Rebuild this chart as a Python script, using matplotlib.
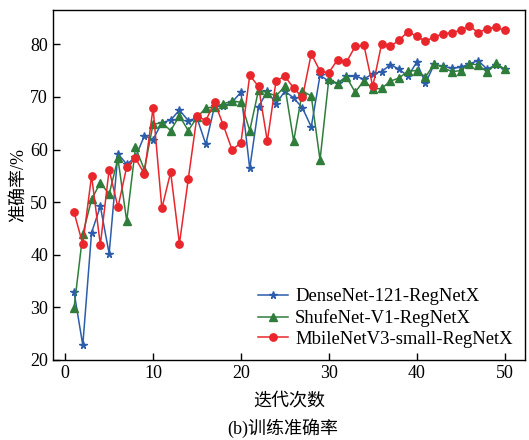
import numpy as np
import matplotlib
matplotlib.use("Agg")
import matplotlib.pyplot as plt

plt.rcParams['font.family'] = ['Liberation Serif', 'Noto Sans CJK SC']
plt.rcParams['axes.unicode_minus'] = False

# ------------ data ------------
epochs = np.arange(1, 51)

densenet_acc = [33.0, 22.8, 44.2, 49.2, 40.2, 59.2, 57.2, 58.5, 62.6, 61.9,
                65.1, 65.6, 67.5, 65.5, 66.0, 61.0, 68.3, 68.2, 69.0, 70.9,
                56.4, 68.1, 71.1, 68.7, 71.1, 69.8, 67.9, 64.3, 74.1, 73.0,
                72.6, 73.9, 73.9, 73.4, 74.4, 74.8, 76.1, 75.3, 73.9, 76.6,
                72.6, 76.2, 75.8, 75.5, 75.6, 76.3, 76.9, 75.3, 76.0, 75.3]

shufflenet_acc = [29.8, 43.9, 50.5, 53.7, 51.5, 58.3, 46.4, 60.4, 56.2, 64.8,
                  65.1, 63.6, 66.4, 63.6, 66.1, 67.9, 68.1, 68.7, 69.2, 69.0,
                  63.6, 71.3, 70.8, 70.2, 72.0, 61.6, 71.1, 70.2, 58.0, 73.4,
                  72.5, 73.8, 70.9, 73.1, 71.5, 71.6, 73.0, 73.6, 74.9, 75.0,
                  73.8, 76.3, 75.6, 74.8, 75.0, 76.3, 76.1, 74.7, 76.4, 75.3]

mobilenet_acc = [48.1, 42.0, 55.0, 41.9, 56.2, 49.0, 56.7, 58.3, 55.4, 67.9,
                 48.8, 55.7, 42.1, 54.3, 66.4, 65.5, 69.0, 64.6, 59.9, 61.3,
                 74.1, 72.0, 61.6, 73.1, 73.9, 71.7, 69.9, 78.2, 74.9, 74.6,
                 77.1, 76.6, 79.6, 79.8, 72.0, 80.0, 79.6, 80.8, 82.4, 81.5,
                 80.6, 81.4, 82.0, 82.2, 82.7, 83.5, 82.2, 83.0, 83.2, 82.7]

labels = ['DenseNet-121-RegNetX', 'ShufeNet-V1-RegNetX', 'MbileNetV3-small-RegNetX']

# ------------ figure ------------
fig = plt.figure(figsize=(5.29, 4.40), dpi=100)
ax = fig.add_axes([0.100, 0.182, 0.892, 0.795])

ax.plot(epochs, densenet_acc, color='#2b5dab', marker='*', markersize=5.5,
        linewidth=1.1, label=labels[0])
ax.plot(epochs, shufflenet_acc, color='#2f7d3b', marker='^', markersize=5.5,
        linewidth=1.1, label=labels[1])
ax.plot(epochs, mobilenet_acc, color='#e8262b', marker='o', markersize=5.3,
        linewidth=1.1, label=labels[2])

# set range and ticks
ax.set_xlim(-1.4, 52.3)
ax.set_ylim(20, 86.5)
ax.set_xticks(np.arange(0, 51, 10))
ax.set_yticks(np.arange(20, 81, 10))
ax.tick_params(axis='both', direction='in', length=5, width=1.0, labelsize=13)
for sp in ax.spines.values():
    sp.set_linewidth(1.0)

# axis labels
ax.set_ylabel('准确率/%', fontsize=13, labelpad=2)
ax.set_xlabel('迭代次数', fontsize=13, labelpad=8)
fig.text(0.535, 0.027, '(b)训练准确率', ha='center', va='center', fontsize=13)

ax.legend(loc='lower right', frameon=False, fontsize=13.4,
          handlelength=1.6, handletextpad=0.4, labelspacing=0.2,
          borderaxespad=0.25)

plt.savefig('out.png', dpi=100)
